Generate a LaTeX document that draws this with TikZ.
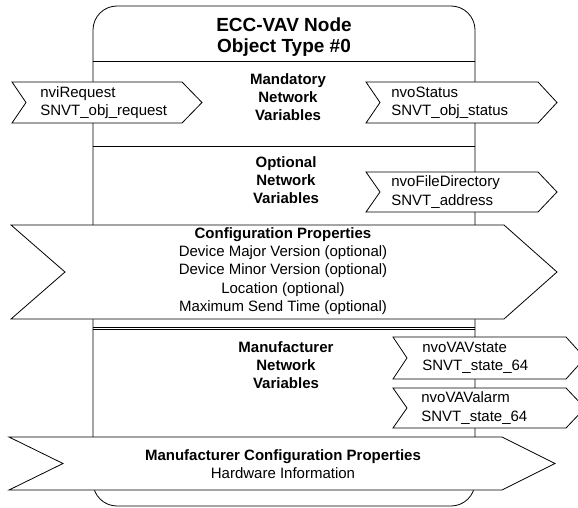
\documentclass[tikz,border=0pt]{standalone}
\usepackage{fontspec}
\setmainfont{Liberation Sans}
\usetikzlibrary{positioning}
\tikzset{objdiag/.style = {x=1pt, y=-1pt, line width=.8pt,
		every node/.style = {inner sep=0pt, font=\fontsize{15}{18.2}\selectfont},
		heading/.style = {align=center, font=\fontsize{15}{18.2}\selectfont\bfseries},
		title/.style = {align=center, font=\fontsize{19}{21.5}\selectfont\bfseries},
		nvlabel/.style = {align=left, anchor=west},
		cplabel/.style = {align=center},
		banner/.style = {draw, fill=white, line join=miter},
	}% end of objdiag style
}
\begin{document}
\begin{tikzpicture}[objdiag]
  \useasboundingbox (0,0) rectangle (578,508);
  % object body and its sections
  \draw[rounded corners=24pt] (93,6) rectangle (475,506);
  \draw (93,61) -- (475,61);
  \draw (93,146) -- (475,146);
  \draw (93,327.3) -- (475,327.3);
  \draw (93,329.2) -- (475,329.2);

  % network variables
  \draw[banner] (12,82) -- (182,82) -- (202,102.5) -- (182,123) -- (12,123) -- (26,102.5) -- cycle;
  \draw[banner] (366,82) -- (538,82) -- (557,102.5) -- (538,123) -- (366,123) -- (380,102.5) -- cycle;
  \draw[banner] (366,172) -- (538,172) -- (557,192) -- (538,212) -- (366,212) -- (380,192) -- cycle;
  \draw[banner] (393,337) -- (566,337) -- (585,358) -- (566,379) -- (393,379) -- (407,358) -- cycle;
  \draw[banner] (393,388) -- (566,388) -- (585,408) -- (566,428) -- (393,428) -- (407,408) -- cycle;

  % configuration properties
  \draw[banner] (11,225) -- (504,225) -- (557,272) -- (504,319) -- (11,319) -- (65,272) -- cycle;
  \draw[banner] (9,437) -- (502,437) -- (555,463.5) -- (502,490) -- (9,490) -- (63,463.5) -- cycle;

  \node[title] (objtitle) at (284,37) {ECC-VAV Node\\Object Type \#0};
  \node[heading] (mandatory) at (288,97) {Mandatory\\Network\\Variables};
  \node[heading] (optional) at (286,180) {Optional\\Network\\Variables};
  \node[heading] (manufnv) at (286,365) {Manufacturer\\Network\\Variables};

  \node[nvlabel] (nviRequest) at (40,102.5) {nviRequest\\SNVT\_obj\_request};
  \node[nvlabel] (nvoStatus) at (391,102.5) {nvoStatus\\SNVT\_obj\_status};
  \node[nvlabel] (nvoFileDirectory) at (391,192) {nvoFileDirectory\\SNVT\_address};
  \node[nvlabel] (nvoVAVstate) at (422,358) {nvoVAVstate\\SNVT\_state\_64};
  \node[nvlabel] (nvoVAValarm) at (421,408) {nvoVAValarm\\SNVT\_state\_64};

  \node[cplabel] (configprops) at (283,271) {\textbf{Configuration Properties}\\Device Major Version (optional)\\Device Minor Version (optional)\\Location (optional)\\Maximum Send Time (optional)};
  \node[cplabel] (manufprops) at (283,464) {\textbf{Manufacturer Configuration Properties}\\Hardware Information};
\end{tikzpicture}
\end{document}
